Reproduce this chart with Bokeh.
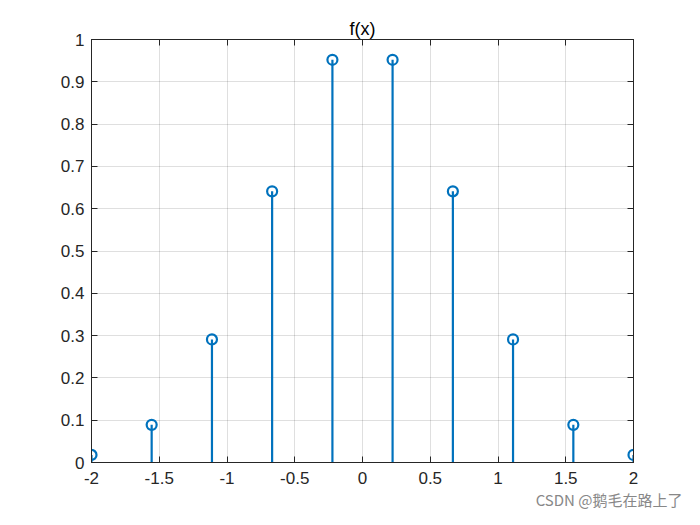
from bokeh.plotting import figure
from bokeh.models import LinearAxis, FixedTicker, CustomJSTickFormatter, Range1d, Grid, Title
from bokeh.embed import file_html
from bokeh.resources import INLINE

x_vals = [-2.0, -1.556, -1.111, -0.667, -0.222, 0.222, 0.667, 1.111, 1.556, 2.0]
y_vals = [0.018, 0.089, 0.291, 0.641, 0.952, 0.952, 0.641, 0.291, 0.089, 0.018]
x_ticks = [-2, -1.5, -1, -0.5, 0, 0.5, 1, 1.5, 2]
y_ticks = [0, 0.1, 0.2, 0.3, 0.4, 0.5, 0.6, 0.7, 0.8, 0.9, 1.0]
title_text = "f(x)"
watermark = "CSDN @鹅毛在路上了"

BLUE = "#0072BD"
DARK = "#262626"
FONT = "Liberation Sans"

p = figure(width=684, height=509, output_backend="svg", toolbar_location=None,
           x_range=Range1d(-2, 2), y_range=Range1d(0, 1),
           min_border_left=91, min_border_right=51, min_border_top=39, min_border_bottom=43,
           x_axis_type=None, y_axis_type=None, title=None)
p.outline_line_color = DARK
p.outline_line_width = 1
p.background_fill_color = "white"
p.border_fill_color = "white"

fmt = CustomJSTickFormatter(code="return tick.toFixed(1).replace(/\\.0$/, '');")
blank = CustomJSTickFormatter(code="return '';")

def make_axis(ticks, show_labels):
    ax = LinearAxis(ticker=FixedTicker(ticks=ticks), formatter=fmt if show_labels else blank)
    ax.axis_line_color = DARK
    ax.major_tick_in = 6
    ax.major_tick_out = 0
    ax.minor_tick_line_color = None
    ax.major_tick_line_color = DARK
    ax.major_label_text_font = FONT
    ax.major_label_text_font_size = "17px"
    ax.major_label_text_color = DARK
    if not show_labels:
        ax.major_label_standoff = 0
    return ax

bx = make_axis(x_ticks, True); bx.major_label_standoff = 9
ly = make_axis(y_ticks, True); ly.major_label_standoff = 7
tx = make_axis(x_ticks, False)
ry = make_axis(y_ticks, False)
p.add_layout(bx, "below")
p.add_layout(tx, "above")
p.add_layout(ly, "left")
p.add_layout(ry, "right")

for dim, ticks in ((0, x_ticks), (1, y_ticks)):
    g = Grid(dimension=dim, ticker=FixedTicker(ticks=ticks))
    g.grid_line_color = DARK
    g.grid_line_alpha = 0.15
    g.grid_line_width = 1
    p.add_layout(g)

wm = Title(text=watermark, align="right", text_font="Noto Sans CJK SC",
           text_font_size="15px", text_font_style="normal",
           text_color="#888888", offset=-49, standoff=0)
p.add_layout(wm, "below")

tt = Title(text=title_text, align="center", text_font=FONT, text_font_size="18px",
           text_font_style="normal", text_color="black", standoff=2)
p.add_layout(tt, "above")

p.segment(x0=x_vals, y0=[0] * len(x_vals), x1=x_vals, y1=y_vals,
          line_color=BLUE, line_width=2.2)
p.scatter(x=x_vals, y=y_vals, marker="circle", size=10, fill_color=None,
          line_color=BLUE, line_width=2.2)

open("out.html", "w").write(file_html(p, INLINE))
